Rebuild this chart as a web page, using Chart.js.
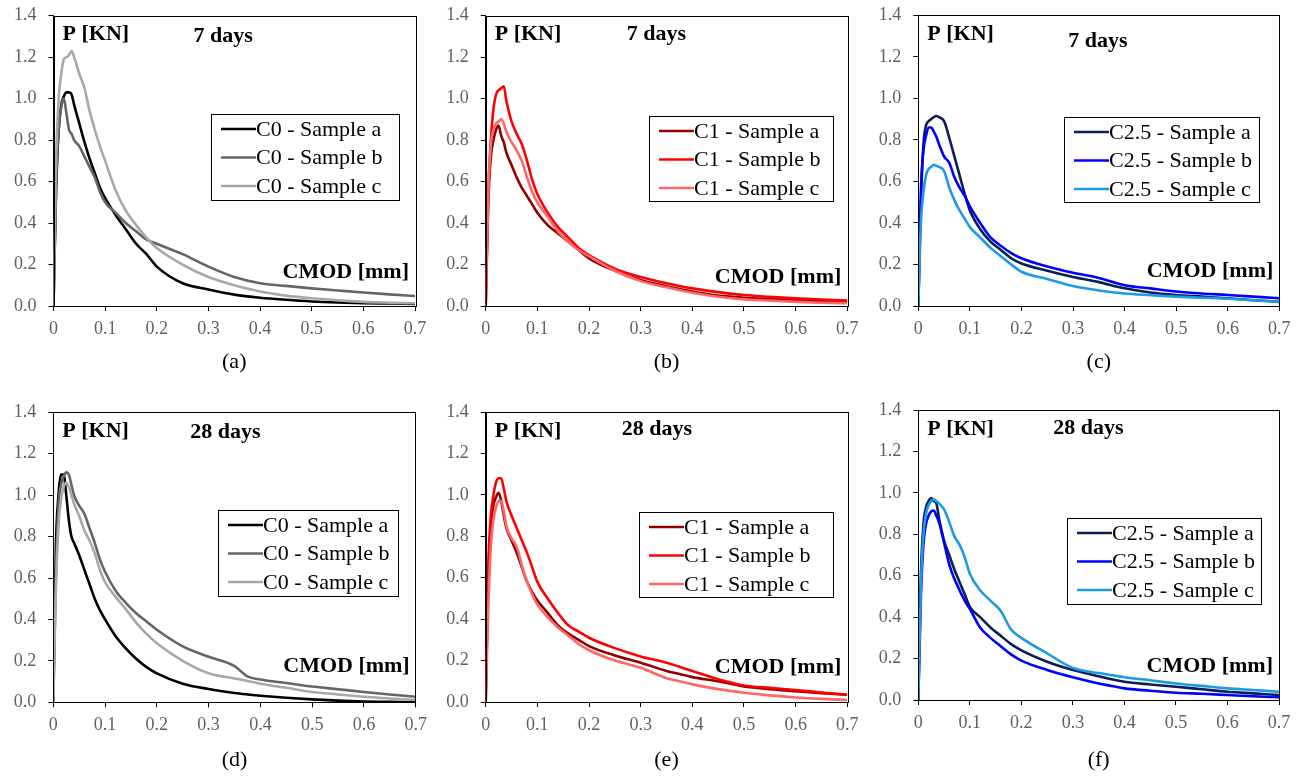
<!DOCTYPE html>
<html>
<head>
<meta charset="utf-8">
<script src="https://cdn.jsdelivr.net/npm/chart.js@4.4.1/dist/chart.umd.min.js"></script>
<style>
  html, body { margin: 0; padding: 0; background: #fff; }
  #wrap { position: relative; width: 1306px; height: 776px; overflow: hidden; }
  canvas { position: absolute; }
</style>
</head>
<body>
<div id="wrap">
  <canvas id="pa" width="430" height="390" style="left:0px;top:0px"></canvas>
  <canvas id="pb" width="430" height="390" style="left:430px;top:0px"></canvas>
  <canvas id="pc" width="446" height="390" style="left:860px;top:0px"></canvas>
  <canvas id="pd" width="430" height="386" style="left:0px;top:390px"></canvas>
  <canvas id="pe" width="430" height="386" style="left:430px;top:390px"></canvas>
  <canvas id="pf" width="446" height="386" style="left:860px;top:390px"></canvas>
</div>
<script>
// CMOD [mm] sampling points
const cmod7  = [0, .005, .01, .015, .02, .025, .03, .035, .04, .05, .06, .07, .08, .09, .1, .12, .14, .16, .18, .2, .25, .3, .35, .4, .45, .5, .55, .6, .65, .7];
const cmod28 = [0, .005, .01, .015, .02, .025, .03, .035, .04, .05, .06, .07, .08, .09, .1, .12, .14, .16, .18, .2, .25, .3, .35, .375, .4, .45, .5, .55, .6, .65, .7];

// P [KN] - 7 days
const c0_7_a  = [0, .55, .85, .97, 1.01, 1.03, 1.03, 1.02, .97, .88, .79, .71, .64, .57, .52, .44, .37, .30, .25, .19, .11, .08, .055, .04, .03, .022, .017, .014, .012, .01];
const c0_7_b  = [0, .6, .85, .96, 1.0, .93, .85, .83, .80, .77, .72, .67, .62, .55, .50, .45, .40, .36, .32, .30, .25, .19, .14, .11, .097, .085, .075, .065, .056, .048];
const c0_7_c  = [0, .7, 1.0, 1.12, 1.19, 1.2, 1.21, 1.23, 1.2, 1.12, 1.05, .94, .85, .77, .70, .56, .46, .39, .33, .28, .20, .14, .10, .07, .05, .037, .028, .02, .016, .013];
const c1_7_a  = [0, .5, .72, .8, .85, .87, .82, .79, .74, .68, .62, .57, .53, .49, .45, .39, .35, .31, .27, .23, .17, .125, .095, .07, .05, .04, .033, .028, .023, .02];
const c1_7_b  = [0, .55, .8, .95, 1.02, 1.04, 1.05, 1.06, .99, .89, .83, .78, .70, .61, .54, .45, .38, .33, .28, .245, .18, .14, .11, .085, .067, .053, .044, .037, .031, .026];
const c1_7_c  = [0, .55, .78, .85, .88, .89, .90, .88, .84, .79, .75, .70, .62, .55, .50, .43, .36, .31, .27, .24, .17, .12, .09, .064, .045, .032, .026, .02, .016, .013];
const c25_7_a = [0, .5, .78, .87, .89, .90, .91, .915, .91, .89, .81, .72, .63, .54, .46, .37, .31, .27, .23, .205, .17, .14, .115, .085, .065, .053, .045, .037, .028, .02];
const c25_7_b = [0, .55, .75, .82, .86, .86, .84, .815, .78, .72, .69, .62, .57, .53, .48, .40, .33, .29, .255, .23, .19, .16, .135, .10, .085, .07, .06, .053, .045, .037];
const c25_7_c = [0, .4, .55, .63, .66, .67, .68, .675, .67, .65, .57, .51, .46, .42, .38, .33, .28, .24, .20, .165, .13, .096, .075, .06, .052, .045, .04, .035, .028, .02];

// P [KN] - 28 days
const c0_28_a  = [0, .75, 1.0, 1.1, 1.1, 1.0, .88, .80, .77, .71, .64, .57, .50, .445, .40, .32, .26, .21, .17, .14, .09, .064, .045, .038, .032, .022, .014, .008, .004, .002, 0];
const c0_28_b  = [0, .6, .95, 1.05, 1.09, 1.11, 1.1, 1.05, 1.0, .95, .91, .84, .77, .69, .63, .54, .48, .43, .39, .35, .27, .22, .175, .125, .11, .093, .076, .063, .05, .038, .027];
const c0_28_c  = [0, .55, .85, .98, 1.04, 1.06, 1.04, 1.0, .96, .90, .83, .78, .72, .64, .58, .51, .45, .385, .33, .285, .20, .14, .115, .103, .09, .07, .05, .038, .027, .018, .011];
const c1_28_a  = [0, .6, .85, .95, .99, 1.01, .97, .90, .84, .78, .72, .65, .58, .53, .49, .43, .37, .33, .30, .27, .225, .19, .15, .135, .12, .10, .075, .062, .052, .043, .035];
const c1_28_b  = [0, .65, .9, 1.0, 1.06, 1.08, 1.08, 1.03, .97, .90, .84, .78, .72, .65, .58, .50, .43, .37, .34, .31, .26, .22, .19, .17, .15, .11, .08, .068, .058, .046, .035];
const c1_28_c  = [0, .45, .75, .88, .94, .97, .97, .92, .85, .79, .75, .66, .58, .52, .47, .41, .36, .32, .28, .25, .20, .165, .115, .10, .085, .062, .045, .032, .022, .015, .01];
const c25_28_a = [0, .6, .85, .93, .96, .975, .96, .95, .88, .77, .70, .63, .57, .51, .45, .40, .35, .31, .27, .24, .185, .145, .115, .10, .088, .075, .064, .052, .04, .032, .024];
const c25_28_b = [0, .5, .75, .85, .89, .91, .915, .89, .86, .76, .655, .585, .53, .48, .44, .35, .30, .26, .22, .19, .145, .11, .08, .068, .056, .045, .035, .03, .024, .018, .013];
const c25_28_c = [0, .55, .8, .9, .94, .96, .97, .96, .95, .92, .86, .79, .75, .69, .61, .53, .48, .43, .34, .30, .225, .155, .13, .12, .11, .095, .08, .068, .056, .048, .04];

const sampleNames = ['Sample a', 'Sample b', 'Sample c'];
const xTickLabels = ['0', '0.1', '0.2', '0.3', '0.4', '0.5', '0.6', '0.7'];
const yTickLabels = ['0.0', '0.2', '0.4', '0.6', '0.8', '1.0', '1.2', '1.4'];

const greys = ['#000000', '#656565', '#a8a8a8'];
const reds  = ['#8e0000', '#ff0000', '#ff6666'];
const blues = ['#0b1f55', '#0000ff', '#1c9ae8'];

const SERIF = '"Liberation Serif", "Times New Roman", serif';

// geometry: plot box (local px), label offsets
const panels = [
  { id: 'pa', tag: '(a)', age: '7 days',  mix: 'C0',   x: cmod7,  ys: [c0_7_a, c0_7_b, c0_7_c],       colors: greys,
    plot: [53.5, 415, 15.7, 306], ageAt: [140, 21], cmodUp: 34, legend: [157.5, 98, 188, 86], tagPad: 15 },
  { id: 'pb', tag: '(b)', age: '7 days',  mix: 'C1',   x: cmod7,  ys: [c1_7_a, c1_7_b, c1_7_c],       colors: reds,
    plot: [55.7, 417.3, 15.7, 306], ageAt: [141, 19], cmodUp: 29, legend: [163, 100, 184, 85], tagPad: 15 },
  { id: 'pc', tag: '(c)', age: '7 days',  mix: 'C2.5', x: cmod7,  ys: [c25_7_a, c25_7_b, c25_7_c],    colors: blues,
    plot: [58.3, 419.3, 15.3, 306], ageAt: [150, 26], cmodUp: 35, legend: [146, 102, 195, 85], tagPad: 15 },
  { id: 'pd', tag: '(d)', age: '28 days', mix: 'C0',   x: cmod28, ys: [c0_28_a, c0_28_b, c0_28_c],    colors: greys,
    plot: [53.3, 415.7, 22.3, 312.3], ageAt: [137, 20], cmodUp: 36, legend: [165, 98, 180, 86], tagPad: 3 },
  { id: 'pe', tag: '(e)', age: '28 days', mix: 'C1',   x: cmod28, ys: [c1_28_a, c1_28_b, c1_28_c],    colors: reds,
    plot: [55.7, 417.3, 22, 312], ageAt: [136, 17], cmodUp: 35, legend: [153, 100, 194, 85], tagPad: 3 },
  { id: 'pf', tag: '(f)', age: '28 days', mix: 'C2.5', x: cmod28, ys: [c25_28_a, c25_28_b, c25_28_c], colors: blues,
    plot: [58.3, 419, 20, 310], ageAt: [135, 18], cmodUp: 34, legend: [149, 108, 194, 86], tagPad: 3 }
];

// frame, in-plot captions and boxed legend
const decor = {
  id: 'decor',
  afterDatasetsDraw(chart, args, o) {
    const { ctx, chartArea: a } = chart;
    ctx.save();
    ctx.strokeStyle = '#000';
    ctx.lineWidth = 1;
    ctx.strokeRect(Math.round(a.left) + 0.5, Math.round(a.top) + 0.5,
                   Math.round(a.right - a.left), Math.round(a.bottom - a.top));

    ctx.fillStyle = '#000';
    ctx.font = 'bold 22px ' + SERIF;
    ctx.textBaseline = 'middle';
    ctx.textAlign = 'left';
    ctx.fillText('P [KN]', a.left + 9, a.top + 19);
    ctx.fillText(o.age, a.left + o.ageAt[0], a.top + o.ageAt[1]);
    ctx.textAlign = 'right';
    ctx.fillText('CMOD [mm]', a.right - 6, a.bottom - o.cmodUp);

    const [lx, ly, lw, lh] = o.legend;
    const bx = Math.round(a.left + lx), by = Math.round(a.top + ly);
    ctx.fillStyle = '#fff';
    ctx.fillRect(bx, by, lw, lh);
    ctx.strokeStyle = '#000';
    ctx.lineWidth = 1;
    ctx.strokeRect(bx + 0.5, by + 0.5, lw, lh);
    ctx.font = '22px ' + SERIF;
    ctx.textAlign = 'left';
    chart.data.datasets.forEach((ds, i) => {
      const y = by + 15 + i * 28.5;
      ctx.strokeStyle = ds.borderColor;
      ctx.lineWidth = 2.5;
      ctx.beginPath();
      ctx.moveTo(bx + 10, y);
      ctx.lineTo(bx + 45, y);
      ctx.stroke();
      ctx.fillStyle = '#000';
      ctx.fillText(ds.label, bx + 45, y + 1);
    });
    ctx.restore();
  }
};

panels.forEach(p => {
  const cv = document.getElementById(p.id);
  const [L, R, T, B] = p.plot;
  new Chart(cv.getContext('2d'), {
    type: 'line',
    data: {
      datasets: p.ys.map((ys, i) => ({
        label: p.mix + ' - ' + sampleNames[i],
        data: ys.map((y, k) => ({ x: p.x[k], y })),
        borderColor: p.colors[i],
        backgroundColor: p.colors[i],
        borderWidth: 2.6,
        pointRadius: 0,
        cubicInterpolationMode: 'monotone',
        borderJoinStyle: 'round',
        order: 2 - i
      }))
    },
    options: {
      responsive: false,
      animation: false,
      devicePixelRatio: 1,
      layout: { padding: { left: 0, right: cv.width - R, top: T, bottom: 0 } },
      plugins: {
        legend: { display: false },
        tooltip: { enabled: false },
        decor: { age: p.age, ageAt: p.ageAt, cmodUp: p.cmodUp, legend: p.legend }
      },
      scales: {
        x: {
          type: 'linear',
          min: 0, max: 0.7,
          afterFit: s => { s.height = cv.height - B; s.paddingLeft = 0; s.paddingRight = 0; },
          border: { display: true, color: '#000', width: 1 },
          grid: { drawOnChartArea: false, drawTicks: true, tickLength: 5, color: '#000' },
          ticks: {
            stepSize: 0.1,
            padding: 7,
            color: '#606060',
            font: { family: SERIF, size: 18 },
            maxRotation: 0,
            callback: (v, i) => xTickLabels[i] !== undefined ? xTickLabels[i] : v
          },
          title: {
            display: true,
            text: p.tag,
            color: '#000',
            font: { family: SERIF, size: 22 },
            padding: { top: 0, bottom: p.tagPad }
          }
        },
        y: {
          min: 0, max: 1.4,
          afterFit: s => { s.width = L; s.paddingTop = 0; s.paddingBottom = 0; },
          border: { display: true, color: '#000', width: 1 },
          grid: { drawOnChartArea: false, drawTicks: true, tickLength: 5, color: '#000' },
          ticks: {
            stepSize: 0.2,
            padding: 12,
            color: '#606060',
            font: { family: SERIF, size: 18 },
            callback: (v, i) => yTickLabels[i] !== undefined ? yTickLabels[i] : v
          }
        }
      }
    },
    plugins: [decor]
  });
});
</script>
</body>
</html>
